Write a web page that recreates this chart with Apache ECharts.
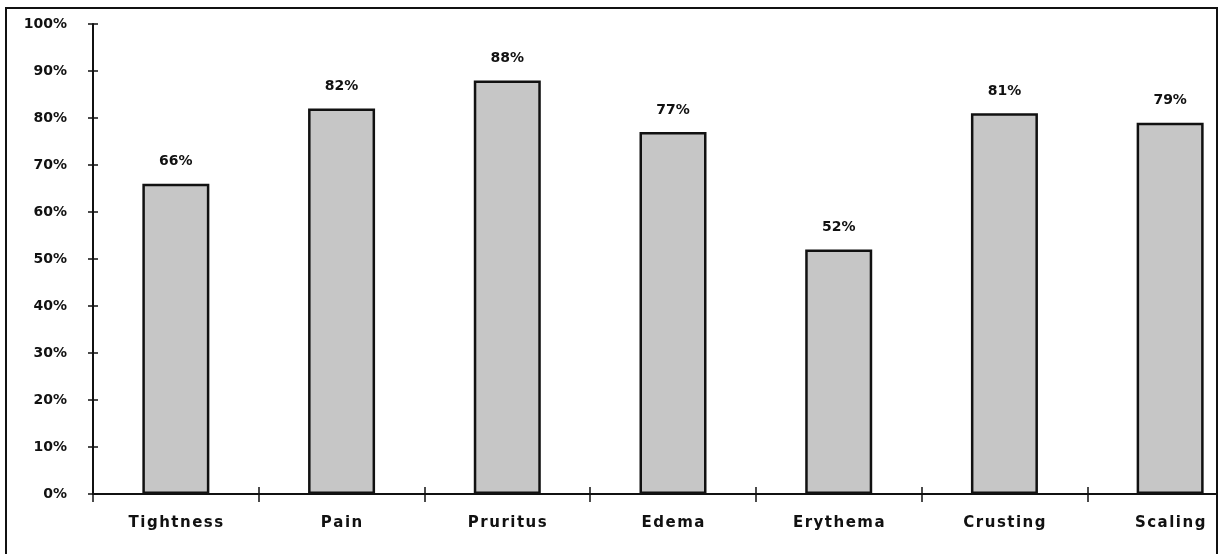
<!DOCTYPE html>
<html>
<head>
<meta charset="utf-8">
<script src="https://cdn.jsdelivr.net/npm/echarts@6/dist/echarts.min.js"></script>
<style>
  html, body { margin: 0; padding: 0; background: #fff; overflow: hidden; }
  #frame { position: absolute; left: 5px; top: 7px; width: 1209px; height: 560px;
           border-left: 2px solid #111; border-top: 2px solid #111; border-right: 2px solid #111;
           overflow: hidden; }
  #chart { position: absolute; left: -7px; top: -9px; width: 1280px; height: 554px; }
</style>
</head>
<body>
<div id="frame"><div id="chart"></div></div>
<script>
const categories = ['Tightness', 'Pain', 'Pruritus', 'Edema', 'Erythema', 'Crusting', 'Scaling'];
const values = [66, 82, 88, 77, 52, 81, 79];
const yTicks = [0, 10, 20, 30, 40, 50, 60, 70, 80, 90, 100];

const chart = echarts.init(document.getElementById('chart'), null, { renderer: 'canvas' });
const font = '"DejaVu Sans", sans-serif';
chart.setOption({
  animation: false,
  grid: { left: 93, top: 24, width: 1160, height: 470, containLabel: false },
  xAxis: [{
    type: 'category',
    data: categories,
    position: 'bottom',
    axisLine: { lineStyle: { color: '#111', width: 2 } },
    axisTick: { show: true, length: 8, lineStyle: { color: '#111', width: 1.5 } },
    axisLabel: { margin: 22, color: '#111', fontFamily: font, fontWeight: 'bold', fontSize: 15,
      formatter: v => v.split('').join('\u200a') },
    splitLine: { show: false }
  }, {
    type: 'category',
    data: categories,
    position: 'bottom',
    axisLine: { show: false },
    axisTick: { show: true, inside: true, length: 7, lineStyle: { color: '#111', width: 1.5 } },
    axisLabel: { show: false },
    splitLine: { show: false }
  }],
  yAxis: [{
    type: 'value',
    min: 0, max: 100, interval: 10,
    axisLine: { show: true, lineStyle: { color: '#111', width: 2 } },
    axisTick: { show: true, length: 5, lineStyle: { color: '#111', width: 1.5 } },
    axisLabel: { margin: 26, color: '#111', fontFamily: font, fontWeight: 'bold', fontSize: 14,
      formatter: v => yTicks.includes(v) ? v + '%' : '' },
    splitLine: { show: false }
  }, {
    type: 'value',
    min: 0, max: 100, interval: 10,
    position: 'left',
    axisLine: { show: false },
    axisTick: { show: true, inside: true, length: 5, lineStyle: { color: '#111', width: 1.5 } },
    axisLabel: { show: false },
    splitLine: { show: false }
  }],
  series: [{
    type: 'bar',
    data: values,
    barWidth: 67,
    itemStyle: { color: '#c6c6c6', borderColor: '#111', borderWidth: 2.5 },
    label: { show: true, position: 'top', distance: 15, formatter: '{c}%',
      color: '#111', fontFamily: font, fontWeight: 'bold', fontSize: 14 }
  }]
});
</script>
</body>
</html>
